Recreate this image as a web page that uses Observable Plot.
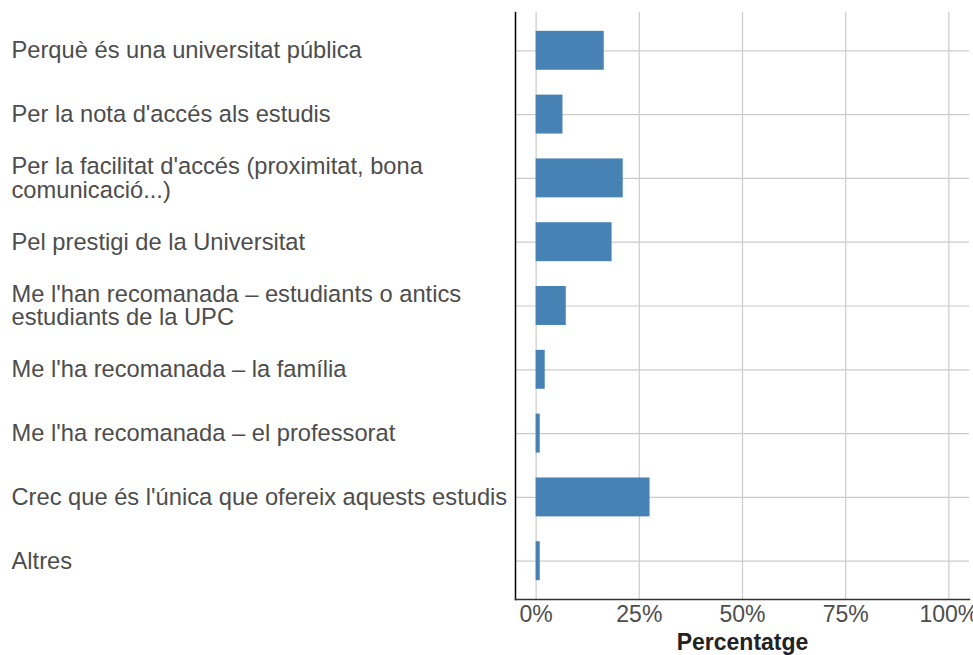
<!DOCTYPE html>
<html>
<head>
<meta charset="utf-8">
<script src="https://cdn.jsdelivr.net/npm/d3@7"></script>
<script src="https://cdn.jsdelivr.net/npm/@observablehq/plot@0.6"></script>
<style>
  html, body { margin: 0; padding: 0; background: #fff; }
  #chart svg { display: block; }
</style>
</head>
<body>
<div id="chart"></div>
<script>
const categories = [
  "Perquè és una universitat pública",
  "Per la nota d'accés als estudis",
  "Per la facilitat d'accés (proximitat, bona\ncomunicació...)",
  "Pel prestigi de la Universitat",
  "Me l'han recomanada – estudiants o antics\nestudiants de la UPC",
  "Me l'ha recomanada – la família",
  "Me l'ha recomanada – el professorat",
  "Crec que és l'única que ofereix aquests estudis",
  "Altres"
];
const percentages = [16.5, 6.5, 21.1, 18.4, 7.3, 2.2, 1.0, 27.6, 1.0];
const xTicks = [0, 25, 50, 75, 100];
const xTickLabels = ["0%", "25%", "50%", "75%", "100%"];

const data = categories.map((c, i) => ({cat: c, pct: percentages[i]}));

const marginLeft = 515;
const chart = Plot.plot({
  width: 973,
  height: 655,
  marginLeft: marginLeft,
  marginRight: 4,
  marginTop: 12,
  marginBottom: 56,
  style: {fontFamily: "'Liberation Sans', Arial, sans-serif", background: "#fff"},
  x: {domain: [-5, 105], ticks: xTicks},
  y: {domain: categories, paddingInner: 0.39, paddingOuter: 0.295, round: false},
  marks: [
    Plot.gridX(xTicks, {stroke: "#cccccc", strokeOpacity: 1, strokeWidth: 1.2}),
    Plot.gridY(categories, {stroke: "#cccccc", strokeOpacity: 1, strokeWidth: 1.2}),
    Plot.barX(data, {x1: 0, x2: "pct", y: "cat", fill: "steelblue"}),
    Plot.axisY({
      tickSize: 0,
      textAnchor: "start",
      dx: -(marginLeft - 12) + 3 + 5,
      fontSize: 23.7,
      fill: "#4d4d4d",
      lineHeight: 1.0,
      label: null
    }),
    Plot.axisX(xTicks, {
      tickSize: 0,
      tickPadding: 6,
      fontSize: 23,
      fill: "#4d4d4d",
      tickFormat: (d) => xTickLabels[xTicks.indexOf(d)],
      label: null
    }),
    Plot.frame({anchor: "left", stroke: "#000", strokeWidth: 1.5}),
    Plot.frame({anchor: "bottom", stroke: "#333", strokeWidth: 1.5}),
    Plot.text(["Percentatge"], {
      frameAnchor: "bottom",
      dy: 50,
      fontSize: 23,
      fontWeight: "bold",
      fill: "#222",
      lineAnchor: "bottom"
    })
  ]
});
document.getElementById("chart").appendChild(chart);
</script>
</body>
</html>
